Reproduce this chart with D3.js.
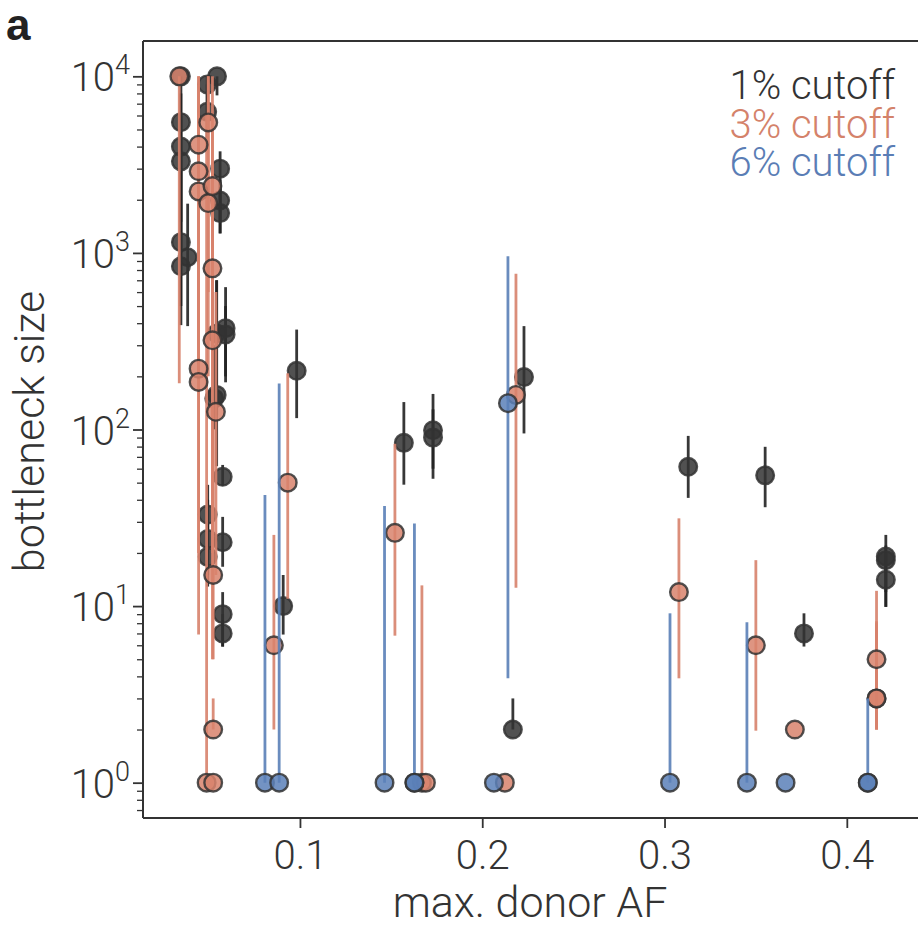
<!DOCTYPE html>
<html>
<head>
<meta charset="utf-8">
<script src="https://cdn.jsdelivr.net/npm/d3@7"></script>
<style>
  html, body { margin: 0; padding: 0; background: #fff; }
  svg { display: block; }
  text { font-family: "Roboto", "Liberation Sans", "DejaVu Sans", sans-serif; font-weight: 300; }
</style>
</head>
<body>
<svg id="chart" width="918" height="926"></svg>
<script>
// Bottleneck size estimates vs. max. donor allele frequency, for three variant-calling cutoffs.
// Each point: donor AF, bottleneck estimate, lower and upper confidence bound.

// 1% cutoff
const cut1_af = [0.0347, 0.0347, 0.0347, 0.0347, 0.0347, 0.0347, 0.0384, 0.0491, 0.0491, 0.0545,
                 0.0562, 0.0562, 0.0562, 0.0543, 0.0592, 0.0592, 0.0543, 0.0530, 0.0576, 0.0494,
                 0.0494, 0.0494, 0.0576, 0.0576, 0.0576, 0.0908, 0.0982, 0.1570, 0.1730, 0.1730,
                 0.2229, 0.2168, 0.3130, 0.3552, 0.3765, 0.4214, 0.4214, 0.4214];
const cut1_n  = [10000, 5500, 4000, 3300, 1150, 840, 945, 9000, 6300, 10000,
                 3000, 1980, 1680, 350, 375, 345, 157, 150, 54, 33,
                 24, 19, 23, 9, 7, 10, 215, 84, 99, 90,
                 198, 2, 61.5, 55, 7, 19.1, 18.2, 14.1];
const cut1_lo = [9100, 2000, 1500, 1000, 500, 390, 385, 6000, 4500, 7800,
                 1290, 1500, 1290, 120, 185, 200, 62, 100, 48, 20,
                 15, 12.9, 16.7, 5.9, 5.9, 6.9, 116, 48.7, 52.6, 60,
                 95, 2, 41, 36.3, 5.9, 9.9, 12, 9.9];
const cut1_hi = [10000, 9100, 8000, 6000, 3000, 2000, 1900, 10000, 9000, 10000,
                 3760, 2600, 2300, 700, 640, 500, 700, 300, 63, 48.6,
                 40, 30, 32, 12, 9, 15, 368, 143, 159, 130,
                 385, 3, 92, 79.8, 9.1, 25.3, 22, 20];

// 3% cutoff
const cut3_af = [0.0338, 0.0444, 0.0444, 0.0444, 0.0444, 0.0444, 0.0497, 0.0497, 0.0488, 0.0520,
                 0.0520, 0.0520, 0.0539, 0.0524, 0.0524, 0.0524, 0.0857, 0.0933, 0.1521, 0.1669,
                 0.1691, 0.2124, 0.2185, 0.3079, 0.3501, 0.3715, 0.4163, 0.4163, 0.4163];
const cut3_n  = [10000, 4100, 2900, 2230, 221, 186, 5480, 1915, 1, 2390,
                 818, 320, 126, 15, 2, 1, 6, 50, 26, 1,
                 1, 1, 157, 12, 6, 2, 5, 3, 3];
const cut3_lo = [183, 500, 300, 200, 20, 6.9, 600, 200, 1, 300,
                 20, 5, 15, 5, 2, 1, 2, 11, 6.8, 1,
                 1, 1, 12.7, 3.9, 1.97, 2, 2, 2, 2];
const cut3_hi = [10000, 10000, 10000, 9000, 1000, 700, 10000, 10000, 6000, 10000,
                 5000, 3000, 600, 100, 3, 1, 25.3, 208, 83, 13.1,
                 1, 1, 763, 31.4, 18.2, 2, 8.2, 12.2, 8];

// 6% cutoff
const cut6_af = [0.0808, 0.0886, 0.1464, 0.1628, 0.1628, 0.2064, 0.2141, 0.3030, 0.3452, 0.3664, 0.4115, 0.4115];
const cut6_n  = [1, 1, 1, 1, 1, 1, 141, 1, 1, 1, 1, 1];
const cut6_lo = [1, 1, 1, 1, 1, 1, 3.9, 1, 1, 1, 1, 1];
const cut6_hi = [42.6, 182, 36.9, 29.4, 1, 1, 956, 9.1, 8.1, 1, 3, 1];

const seriesNames  = ["1% cutoff", "3% cutoff", "6% cutoff"];
const yTickValues  = [1, 10, 100, 1000, 10000];
const xTickValues  = [0.1, 0.2, 0.3, 0.4];

const series = [
  { name: seriesNames[0], af: cut1_af, n: cut1_n, lo: cut1_lo, hi: cut1_hi,
    fill: "#333333", bar: "#222222", text: "#333333", edge: "#333333" },
  { name: seriesNames[1], af: cut3_af, n: cut3_n, lo: cut3_lo, hi: cut3_hi,
    fill: "#d8826c", bar: "#d8826c", text: "#d4826a", edge: "#333333" },
  { name: seriesNames[2], af: cut6_af, n: cut6_n, lo: cut6_lo, hi: cut6_hi,
    fill: "#5a80b8", bar: "#5a80b8", text: "#5a7db5", edge: "#333333" }
];

const svg = d3.select("#chart");
const plot = { left: 143, right: 917, top: 41, bottom: 818 };

const x = d3.scaleLinear().domain([0.0139, 0.4385]).range([plot.left, plot.right]);
const y = d3.scaleLog().domain([Math.pow(10, -0.2), Math.pow(10, 4.2)]).range([plot.bottom, plot.top]);

const axisColor = "#333";

// Frame (left, bottom, top spines)
svg.append("line").attr("x1", plot.left).attr("x2", plot.left).attr("y1", plot.top).attr("y2", plot.bottom)
  .attr("stroke", axisColor).attr("stroke-width", 2);
svg.append("line").attr("x1", plot.left).attr("x2", 918).attr("y1", plot.bottom).attr("y2", plot.bottom)
  .attr("stroke", axisColor).attr("stroke-width", 2);
svg.append("line").attr("x1", plot.left).attr("x2", 918).attr("y1", plot.top).attr("y2", plot.top)
  .attr("stroke", axisColor).attr("stroke-width", 2);

// Y axis: major ticks at decades, minor ticks between
const yAxis = d3.axisLeft(y).tickValues(yTickValues).tickSize(10).tickFormat("");
const yg = svg.append("g").attr("transform", `translate(${plot.left},0)`).call(yAxis);
yg.select(".domain").remove();
yg.selectAll(".tick line").attr("stroke", axisColor).attr("stroke-width", 1.8);

const minorVals = [];
for (let e = -1; e <= 4; e++) {
  for (let m = 2; m <= 9; m++) {
    const v = m * Math.pow(10, e);
    if (v >= y.domain()[0] && v <= y.domain()[1]) minorVals.push(v);
  }
}
const yMinor = d3.axisLeft(y).tickValues(minorVals).tickSize(6).tickFormat("");
const ym = svg.append("g").attr("transform", `translate(${plot.left},0)`).call(yMinor);
ym.select(".domain").remove();
ym.selectAll(".tick line").attr("stroke", axisColor).attr("stroke-width", 1.3);

// Y tick labels as 10 with superscript exponent
yTickValues.forEach(v => {
  const t = svg.append("text")
    .attr("x", 130).attr("y", y(v) + 15)
    .attr("text-anchor", "end")
    .attr("fill", axisColor)
    .style("font-size", "40px");
  t.append("tspan").text("10");
  t.append("tspan").text(String(Math.round(Math.log10(v))))
    .attr("dy", -17).style("font-size", "27px");
});

// X axis
const xAxis = d3.axisBottom(x).tickValues(xTickValues).tickSize(10).tickPadding(5)
  .tickFormat(d3.format(".1f"));
const xg = svg.append("g").attr("transform", `translate(0,${plot.bottom})`).call(xAxis);
xg.select(".domain").remove();
xg.selectAll(".tick line").attr("stroke", axisColor).attr("stroke-width", 1.8);
xg.selectAll(".tick text").attr("fill", axisColor)
  .style("font-size", "40px").style("font-family", null).attr("dy", "0.9em");

// Axis titles
svg.append("text").attr("x", (plot.left + plot.right) / 2).attr("y", 917)
  .attr("text-anchor", "middle").attr("fill", axisColor).style("font-size", "43px")
  .text("max. donor AF");
svg.append("text")
  .attr("transform", `translate(44,${(plot.top + plot.bottom) / 2 + 2}) rotate(-90)`)
  .attr("text-anchor", "middle").attr("fill", axisColor).style("font-size", "43px")
  .text("bottleneck size");

// Panel letter
svg.append("text").attr("x", 6).attr("y", 40).attr("fill", "#222")
  .style("font-size", "44px").style("font-weight", "700")
  .style("font-family", "'Liberation Sans', Arial, sans-serif")
  .text("a");

// Error bars and points, one series at a time
series.forEach(s => {
  const rows = s.af.map((a, i) => ({ af: a, n: s.n[i], lo: s.lo[i], hi: s.hi[i] }));
  const g = svg.append("g");
  g.selectAll("line.err").data(rows.filter(d => d.hi > d.lo)).enter().append("line")
    .attr("class", "err")
    .attr("x1", d => x(d.af)).attr("x2", d => x(d.af))
    .attr("y1", d => y(d.lo)).attr("y2", d => y(d.hi))
    .attr("stroke", s.bar).attr("stroke-width", 2.8).attr("opacity", 0.9);
  g.selectAll("circle").data(rows).enter().append("circle")
    .attr("cx", d => x(d.af)).attr("cy", d => y(d.n)).attr("r", 8.8)
    .attr("fill", s.fill).attr("fill-opacity", 0.85)
    .attr("stroke", s.edge).attr("stroke-width", 2.4).attr("stroke-opacity", 0.85);
});

// Legend: coloured text, right aligned
series.forEach((s, i) => {
  svg.append("text").attr("x", 895).attr("y", 99 + i * 38.5)
    .attr("text-anchor", "end").attr("fill", s.text).style("font-size", "40px")
    .text(s.name);
});
</script>
</body>
</html>
